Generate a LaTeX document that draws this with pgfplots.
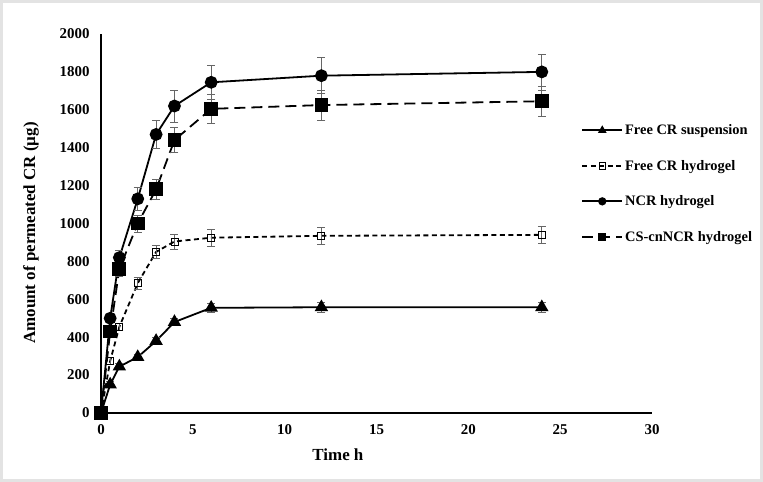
\documentclass[border=0pt]{standalone}
\usepackage{fontspec}
\setmainfont{Liberation Serif}
\usepackage{pgfplots}
\pgfplotsset{compat=1.18}

\begin{document}
\begin{tikzpicture}[x=1bp,y=1bp]
\fill[gray!22] (0,0) rectangle (763,482);
\fill[white] (3,3) rectangle (760,479);
\begin{axis}[
    at={(101bp,69bp)}, anchor=south west,
    scale only axis, width=551bp, height=379bp,
    xmin=0, xmax=30, ymin=0, ymax=2000,
    axis x line=bottom, axis y line=left,
    axis line style={-, line width=1.8bp},
    xtick={0,5,...,30}, ytick={0,200,...,2000},
    major tick length=0pt,
    clip=false,
    tick label style={font=\fontsize{15}{17}\selectfont\bfseries},
    /pgf/number format/assume math mode=true,
    /pgf/number format/1000 sep={},
    xticklabel style={yshift=-8bp},
    yticklabel style={xshift=-8bp},
    xlabel={Time h},
    ylabel={Amount of permeated CR (µg)},
    label style={font=\fontsize{17}{19}\selectfont\bfseries},
    xlabel style={at={(axis description cs:0.43,-0.111)}, anchor=center},
    ylabel style={at={(axis description cs:-0.127,0.475)}, anchor=center},
    error bars/y dir=both,
    error bars/y explicit,
    error bars/error bar style={line width=0.7bp, gray!80!black, solid},
    error bars/error mark options={rotate=90, mark size=4bp, line width=0.7bp, gray!80!black, solid},
    legend style={at={(axis description cs:0.866,0.772)}, anchor=north west,
        draw=none, fill=none, row sep=20bp,
        font=\fontsize{14.5}{16}\selectfont\bfseries},
    legend cell align=left,
    legend image code/.code={
        \draw[mark repeat=2, mark phase=2, mark size=3.2bp]
        plot coordinates {(0bp,0bp) (20bp,0bp) (40bp,0bp)};},
]

\addplot+[black, line width=1.8bp, solid, mark=triangle*, mark size=6bp,
    mark options={solid, fill=black}] coordinates {
    (0,0) +- (0,0)
    (0.5,150) +- (0,15)
    (1,245) +- (0,15)
    (2,295) +- (0,15)
    (3,380) +- (0,18)
    (4,480) +- (0,20)
    (6,555) +- (0,25)
    (12,558) +- (0,25)
    (24,558) +- (0,25)
};
\addlegendentry{Free CR suspension}

\addplot+[black, line width=1.8bp, dash pattern=on 5bp off 3.5bp, mark=square, mark size=3.5bp,
    mark options={solid, fill=white, line width=0.9bp}] coordinates {
    (0,0) +- (0,0)
    (0.5,275) +- (0,20)
    (1,455) +- (0,20)
    (2,685) +- (0,30)
    (3,850) +- (0,35)
    (4,905) +- (0,40)
    (6,925) +- (0,45)
    (12,935) +- (0,45)
    (24,940) +- (0,45)
};
\addlegendentry{Free CR hydrogel}

\addplot+[black, line width=1.8bp, solid, mark=*, mark size=5.5bp,
    mark options={solid, fill=black}] coordinates {
    (0,0) +- (0,0)
    (0.5,500) +- (0,20)
    (1,820) +- (0,40)
    (2,1130) +- (0,60)
    (3,1470) +- (0,75)
    (4,1620) +- (0,85)
    (6,1745) +- (0,90)
    (12,1780) +- (0,95)
    (24,1800) +- (0,95)
};
\addlegendentry{NCR hydrogel}

\addplot+[black, line width=1.8bp, dash pattern=on 11bp off 6bp, mark=square*, mark size=6bp,
    mark options={solid, fill=black}] coordinates {
    (0,0) +- (0,0)
    (0.5,430) +- (0,20)
    (1,760) +- (0,40)
    (2,1000) +- (0,45)
    (3,1180) +- (0,55)
    (4,1440) +- (0,65)
    (6,1605) +- (0,75)
    (12,1625) +- (0,80)
    (24,1645) +- (0,80)
};
\addlegendentry{CS-cnNCR hydrogel}

\end{axis}
\end{tikzpicture}
\end{document}
